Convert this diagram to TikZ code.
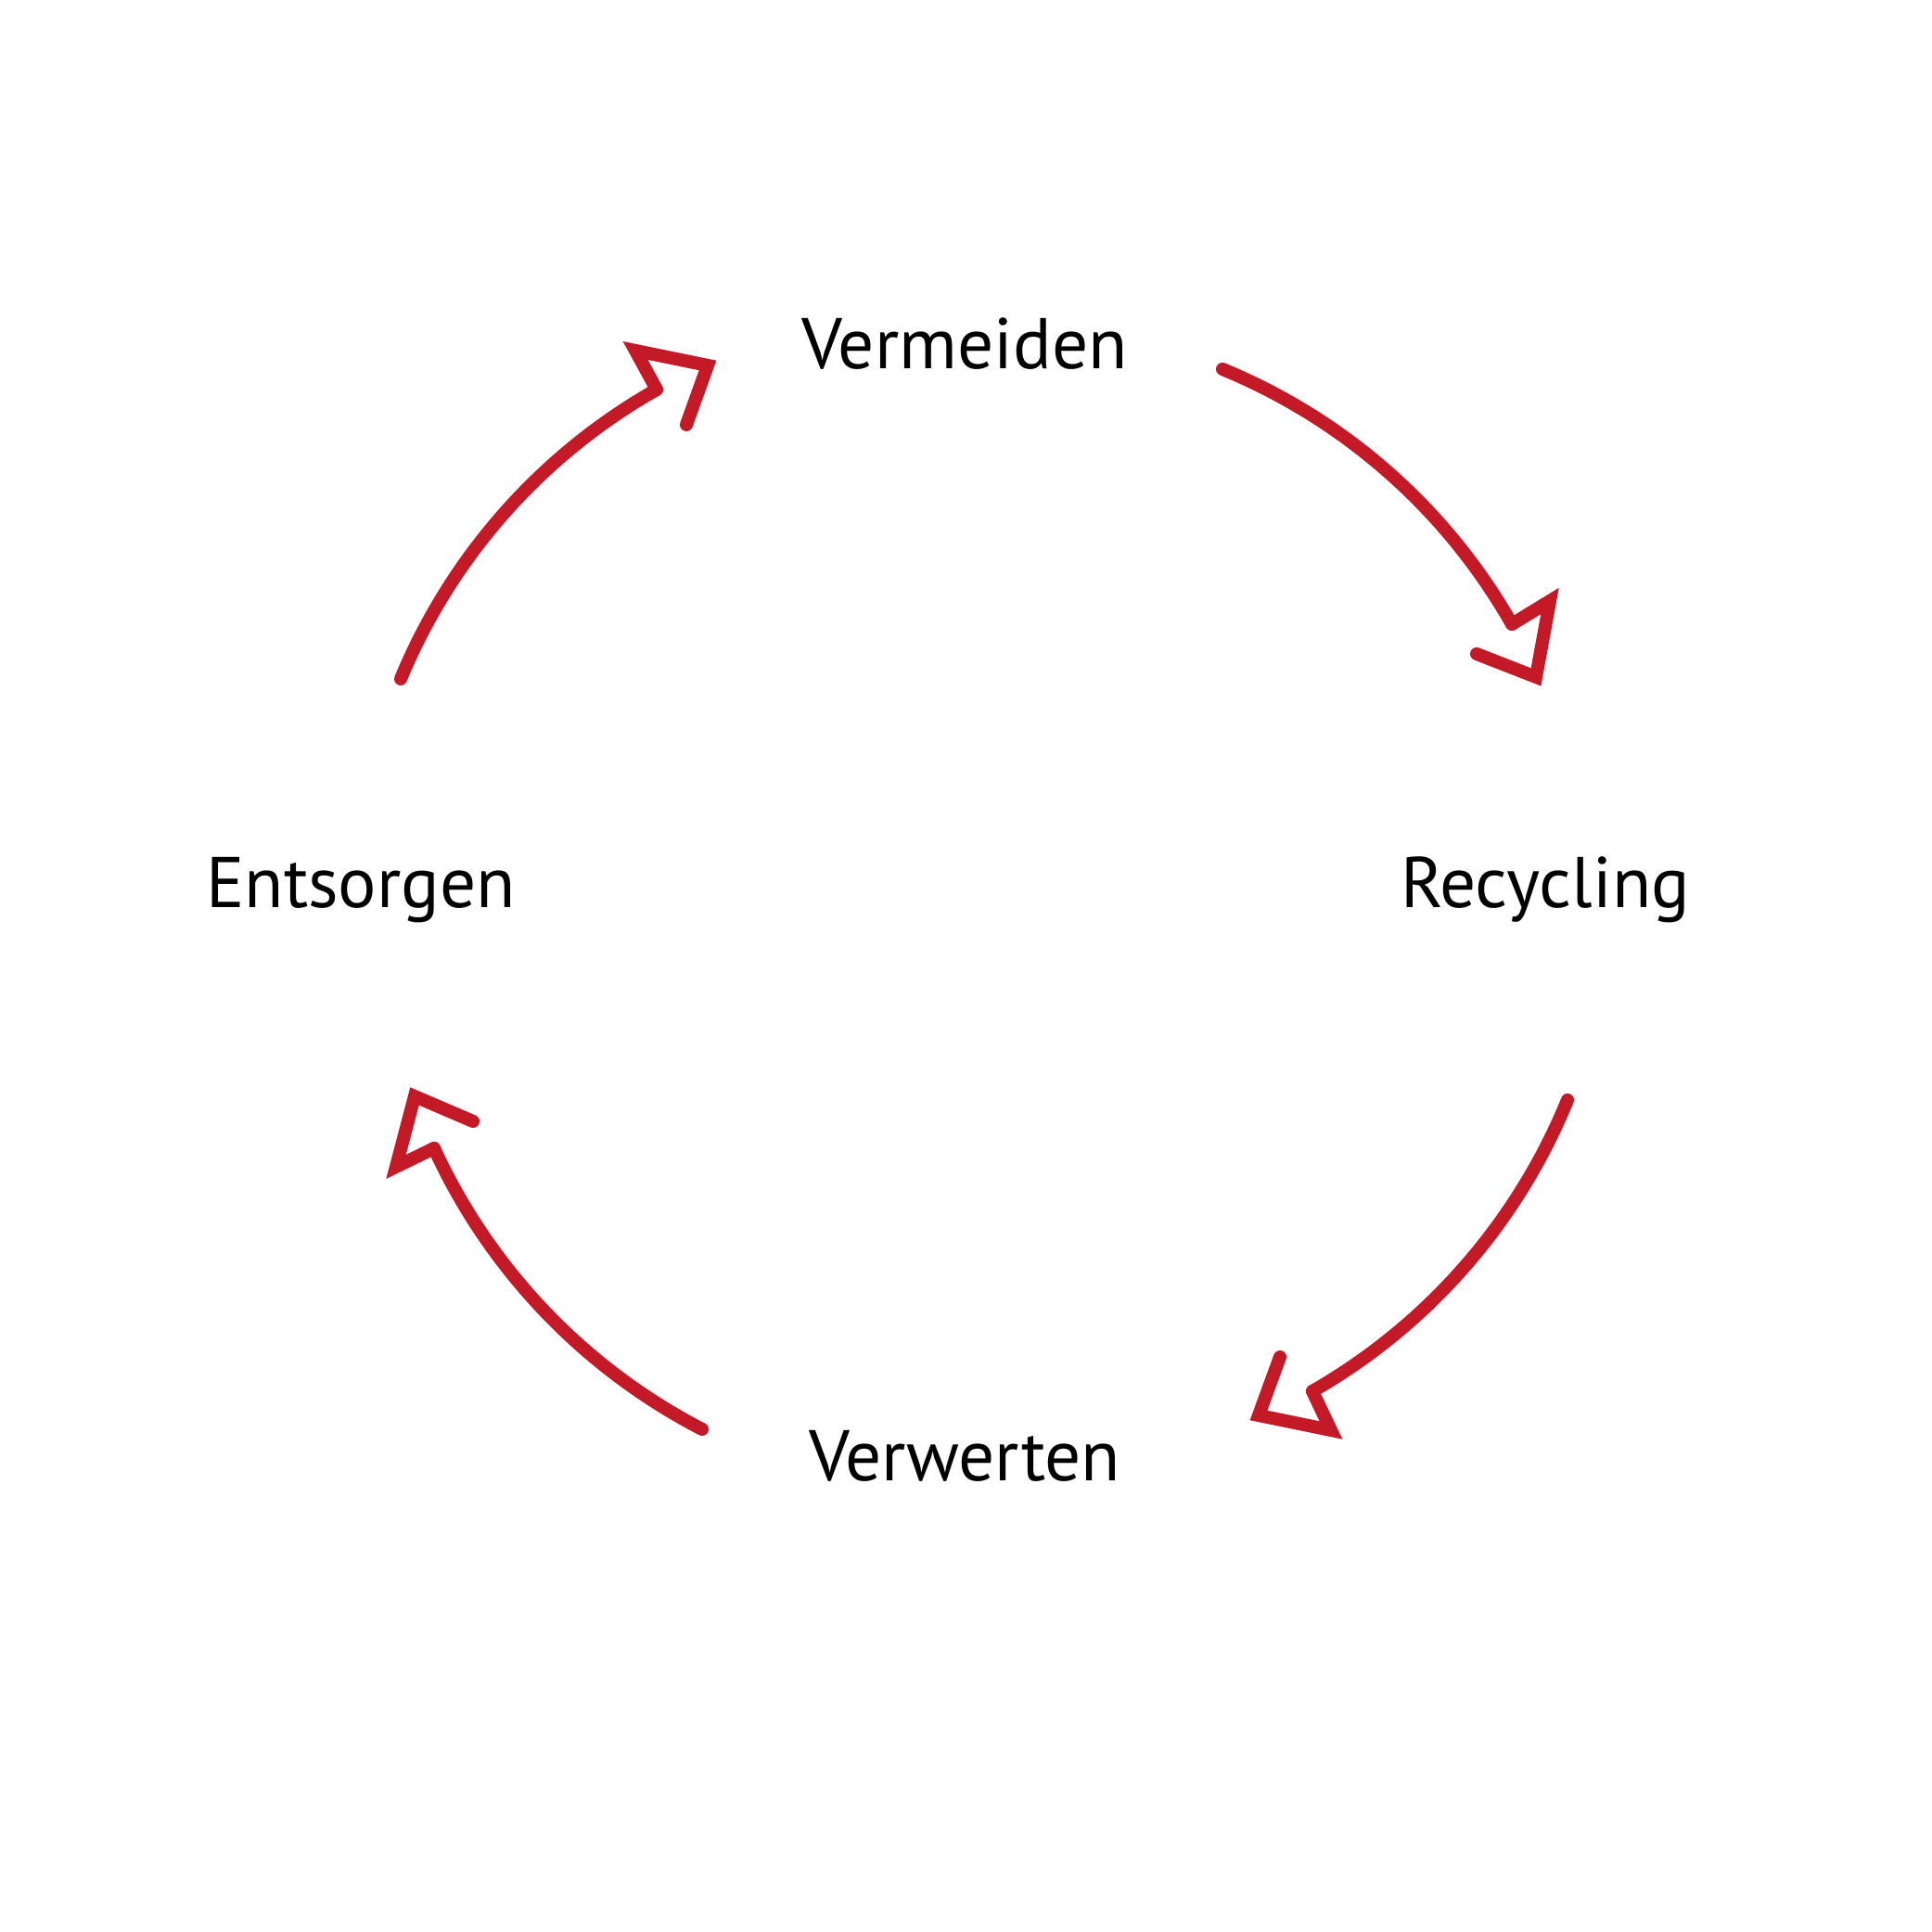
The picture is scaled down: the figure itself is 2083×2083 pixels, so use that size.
\documentclass[tikz,border=0pt]{standalone}
\usepackage{fontspec}
\setmainfont{PT Sans}
\usetikzlibrary{calc}
\definecolor{cyclered}{RGB}{196,26,40}
\tikzset{
  label/.style={font=\fontsize{22pt}{26pt}\selectfont, text=black, inner sep=0pt, anchor=base},
  shaft/.style={draw=cyclered, line width=4pt, line cap=round, line join=round},
  headline/.style={draw=cyclered, line width=4pt, line cap=round, line join=miter},
}
\begin{document}
\begin{tikzpicture}[x=0.01cm, y=0.01cm]
\useasboundingbox (0,0) rectangle (2083,2083);
% labels
\node[label] (vermeiden) at (1040,1685) {Vermeiden};
\node[label] (recycling) at (1666,1104) {Recycling};
\node[label] (verwerten) at (1040,486) {Verwerten};
\node[label] (entsorgen) at (389,1104) {Entsorgen};
% arrow 1: Vermeiden -> Recycling
\coordinate (a1s) at (1318,1685);
\coordinate (a1j) at (1630,1410);
\coordinate (a1c) at (1671,1435);
\coordinate (a1t) at (1656,1353);
\coordinate (a1e) at (1592,1378);
% arrow 2: Recycling -> Verwerten
\coordinate (a2s) at (1690,897);
\coordinate (a2j) at (1415,583);
\coordinate (a2c) at (1435,541);
\coordinate (a2t) at (1357,557);
\coordinate (a2e) at (1380,620);
% arrow 3: Verwerten -> Entsorgen
\coordinate (a3s) at (757,542);
\coordinate (a3j) at (468,845);
\coordinate (a3c) at (427,825);
\coordinate (a3t) at (447,901);
\coordinate (a3e) at (510,874);
% arrow 4: Entsorgen -> Vermeiden
\coordinate (a4s) at (432,1351);
\coordinate (a4j) at (708,1663);
\coordinate (a4c) at (685,1705);
\coordinate (a4t) at (763,1689);
\coordinate (a4e) at (740,1625);
\foreach \i in {1,2,3,4}{
  \draw[shaft] (a\i s) .. controls ($(a\i s)!0.3427!19:(a\i j)$) and ($(a\i j)!0.3427!-19:(a\i s)$) .. (a\i j);
  \draw[headline] (a\i j) -- (a\i c) -- (a\i t) -- (a\i e);
}
\end{tikzpicture}
\end{document}
